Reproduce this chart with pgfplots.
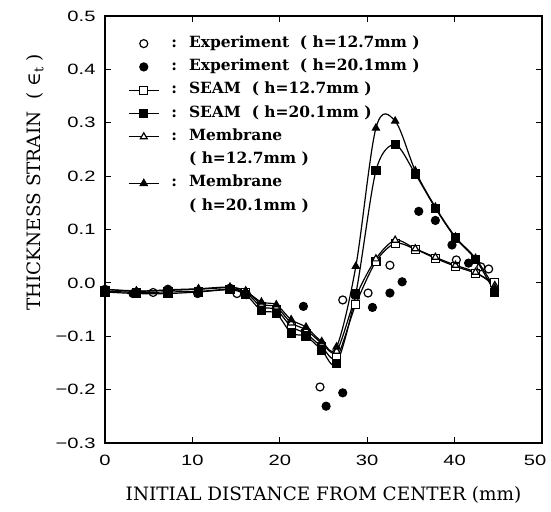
\documentclass[border=0pt]{standalone}
\usepackage{fontspec}
\setmainfont{DejaVu Serif}
\newfontfamily\tickfont[FakeStretch=1.35]{Liberation Sans}
\usepackage{pgfplots}
\pgfplotsset{compat=1.18}
\begin{document}
\begin{tikzpicture}
\begin{axis}[
  at={(0,0)}, anchor=south west,
  scale only axis, width=437bp, height=427bp,
  xmin=0, xmax=50, ymin=-0.3, ymax=0.5,
  xtick={0,10,20,30,40,50}, xticklabels={0,10,20,30,40,\hspace*{-14bp}50},
  ytick={-0.3,-0.2,-0.1,0,0.1,0.2,0.3,0.4,0.5},
  yticklabels={−0.3,−0.2,−0.1,0.0,0.1,0.2,0.3,0.4,0.5},
  ticklabel style={font=\tickfont\fontsize{15}{17}\selectfont},
  xticklabel style={yshift=-9bp},
  yticklabel style={xshift=-6bp},
  major tick length=6bp,
  tick style={line width=1pt, black},
  axis line style={line width=1.3pt},
  xlabel={INITIAL DISTANCE FROM CENTER (mm)},
  xlabel style={font=\fontsize{18.5}{21}\selectfont, at={(axis description cs:0.5,-0.122)}, anchor=center},
  ylabel={THICKNESS STRAIN\ \ (\ ∈\textsubscript{t}\ )},
  ylabel style={font=\fontsize{18.5}{21}\selectfont, at={(axis description cs:-0.160,0.61)}, anchor=center},
  legend image code/.code={\draw[mark repeat=2,mark phase=2,#1] plot coordinates {(0bp,0bp) (15bp,0bp) (30bp,0bp)};},
  legend style={at={(axis description cs:0.0526,0.951)}, anchor=north west, draw=none, fill=none,
    inner sep=0pt, nodes={inner sep=0pt, text height=10bp, text depth=3bp},
    column sep=12bp, row sep=10.3bp,
    font=\bfseries\fontsize{15.5}{18}\selectfont},
  legend cell align=left,
  every axis plot/.append style={black, line width=1.2pt, mark size=4bp},
]
\addlegendimage{only marks, mark=o, mark options={fill=white, line width=1.2pt}}
\addlegendentry{:\hspace{12bp}Experiment\ \ (\ h=12.7mm\ )}
\addlegendimage{only marks, mark=*}
\addlegendentry{:\hspace{12bp}Experiment\ \ (\ h=20.1mm\ )}
\addlegendimage{mark=square*, mark options={fill=white, solid}}
\addlegendentry{:\hspace{12bp}SEAM\ \ (\ h=12.7mm\ )}
\addlegendimage{mark=square*}
\addlegendentry{:\hspace{12bp}SEAM\ \ (\ h=20.1mm\ )}
\addlegendimage{mark=triangle*, mark options={fill=white}}
\addlegendentry{:\hspace{12bp}Membrane}
\addlegendimage{empty legend}
\addlegendentry{\phantom{:}\hspace{12bp}(\ h=12.7mm\ )}
\addlegendimage{mark=triangle*}
\addlegendentry{:\hspace{12bp}Membrane}
\addlegendimage{empty legend}
\addlegendentry{\phantom{:}\hspace{12bp}(\ h=20.1mm\ )}

% SEAM h=12.7
\addplot[smooth, tension=0.5, mark=square*, mark options={fill=white}, forget plot] coordinates {
(0,-0.015) (3.6,-0.018) (7.2,-0.017) (10.7,-0.016) (14.3,-0.012) (16.1,-0.018) (17.9,-0.045) (19.6,-0.05) (21.3,-0.082) (23.0,-0.095) (24.8,-0.12) (26.5,-0.14) (28.7,-0.04) (31.0,0.04) (33.2,0.074) (35.5,0.063) (37.8,0.046) (40.1,0.031) (42.4,0.018) (44.6,0.0)};
% Membrane h=12.7
\addplot[smooth, tension=0.5, mark=triangle*, mark options={fill=white}, forget plot] coordinates {
(0,-0.012) (3.6,-0.015) (7.2,-0.014) (10.7,-0.012) (14.3,-0.009) (16.1,-0.015) (17.9,-0.04) (19.6,-0.045) (21.3,-0.075) (23.0,-0.088) (24.8,-0.113) (26.5,-0.128) (28.7,-0.026) (31.0,0.045) (33.2,0.08) (35.5,0.064) (37.8,0.048) (40.1,0.033) (42.4,0.02) (44.6,-0.005)};
% SEAM h=20.1
\addplot[smooth, tension=0.5, mark=square*, forget plot] coordinates {
(0,-0.017) (3.6,-0.02) (7.2,-0.02) (10.7,-0.017) (14.3,-0.013) (16.1,-0.022) (17.9,-0.052) (19.6,-0.057) (21.3,-0.094) (23.0,-0.10) (24.8,-0.126) (26.5,-0.151) (28.7,-0.02) (31.0,0.21) (33.2,0.259) (35.5,0.204) (37.8,0.14) (40.1,0.084) (42.4,0.044) (44.6,-0.018)};
% Membrane h=20.1
\addplot[smooth, tension=0.55, mark=triangle*, forget plot] coordinates {
(0,-0.012) (3.6,-0.016) (7.2,-0.013) (10.7,-0.011) (14.3,-0.008) (16.1,-0.016) (17.9,-0.036) (19.6,-0.041) (21.3,-0.069) (23.0,-0.083) (24.8,-0.11) (26.5,-0.12) (28.7,0.031) (31.0,0.29) (33.2,0.303) (35.5,0.21) (37.8,0.142) (40.1,0.086) (42.4,0.046) (44.6,-0.01)};
% Experiment h=12.7
\addplot[only marks, mark=o, mark options={fill=white}, forget plot] coordinates {
(0,-0.012) (5.5,-0.018) (10.6,-0.02) (15.1,-0.02) (24.6,-0.195) (27.2,-0.032) (30.1,-0.019) (32.6,0.033) (40.2,0.043) (43.0,0.03) (43.9,0.026)};
% Experiment h=20.1
\addplot[only marks, mark=*, forget plot] coordinates {
(0,-0.015) (3.2,-0.02) (7.2,-0.012) (14.3,-0.01) (16.2,-0.022) (22.7,-0.044) (25.3,-0.231) (27.2,-0.206) (30.6,-0.046) (32.6,-0.019) (34.0,0.002) (35.9,0.134) (37.8,0.117) (39.7,0.071) (41.6,0.037)};
\end{axis}
\pgfresetboundingbox
\path (-105bp,-69bp) rectangle (446bp,443bp);
\end{tikzpicture}
\end{document}
